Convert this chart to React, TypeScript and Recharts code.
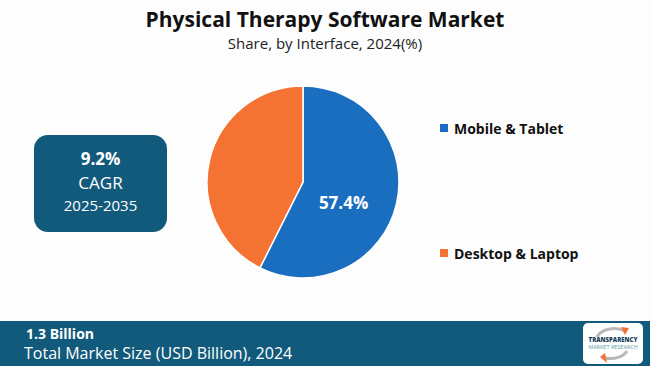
import { PieChart, Pie, Cell } from 'recharts'

const segments = ['Mobile & Tablet', 'Desktop & Laptop']
const shares = [57.4, 42.6]
const colors = ['#1a6ebf', '#f47232']

const data = segments.map((name, i) => ({ name, value: shares[i] }))

// only the big slice carries a label in the original
const renderLabel = ({ cx, cy, midAngle, outerRadius, index, value }: any) => {
  if (index !== 0) return null
  const RAD = Math.PI / 180
  const r = outerRadius * 0.52
  const x = cx + r * Math.cos(-midAngle * RAD)
  const y = cy + r * Math.sin(-midAngle * RAD)
  return (
    <text
      x={x - 8}
      y={y + 9}
      fill="#fff"
      textAnchor="middle"
      dominantBaseline="central"
      style={{ fontFamily: 'Open Sans', fontWeight: 700, fontSize: 17 }}
    >
      {value}%
    </text>
  )
}

export default function App() {
  return (
    <div
      style={{
        position: 'fixed',
        left: 0,
        top: 0,
        width: 650,
        height: 366,
        background: '#fdfdfd',
        overflow: 'hidden',
        fontFamily: 'Open Sans',
      }}
    >
      <div
        style={{
          position: 'absolute',
          top: 5,
          width: '100%',
          textAlign: 'center',
          fontSize: 21,
          lineHeight: '28px',
          fontWeight: 700,
          color: '#111',
        }}
      >
        Physical Therapy Software Market
      </div>
      <div
        style={{
          position: 'absolute',
          top: 33,
          width: '100%',
          textAlign: 'center',
          fontSize: 15,
          lineHeight: '20px',
          color: '#222',
        }}
      >
        Share, by Interface, 2024(%)
      </div>

      <PieChart
        width={650}
        height={366}
        margin={{ top: 0, right: 0, bottom: 0, left: 0 }}
        style={{ position: 'absolute', left: 0, top: 0 }}
      >
        <Pie
          data={data}
          dataKey="value"
          nameKey="name"
          cx={303}
          cy={182}
          outerRadius={96}
          startAngle={90}
          endAngle={-270}
          stroke="#fff"
          strokeWidth={1.5}
          labelLine={false}
          label={renderLabel}
          isAnimationActive={false}
        >
          {data.map((d, i) => (
            <Cell key={d.name} fill={colors[i]} />
          ))}
        </Pie>
      </PieChart>

      <div
        style={{
          position: 'absolute',
          left: 440,
          top: 118,
          fontWeight: 700,
          fontSize: 14,
          color: '#111',
        }}
      >
        {segments.map((s, i) => (
          <div
            key={s}
            style={{
              display: 'flex',
              alignItems: 'center',
              gap: 6,
              height: 20,
              marginBottom: i === 0 ? 105 : 0,
            }}
          >
            <div style={{ width: 8, height: 8, background: colors[i] }} />
            <span>{s}</span>
          </div>
        ))}
      </div>

      <div
        style={{
          position: 'absolute',
          left: 34,
          top: 135,
          width: 133,
          height: 97,
          borderRadius: 14,
          background: '#125a7c',
          color: '#fff',
          textAlign: 'center',
        }}
      >
        <div style={{ marginTop: 12, fontSize: 17, fontWeight: 700, lineHeight: '24px' }}>9.2%</div>
        <div style={{ fontSize: 17, lineHeight: '24px' }}>CAGR</div>
        <div style={{ fontSize: 15, lineHeight: '20px' }}>2025-2035</div>
      </div>

      <div
        style={{
          position: 'absolute',
          left: 0,
          top: 321,
          width: 650,
          height: 45,
          background: '#125a7c',
          color: '#fff',
        }}
      >
        <div style={{ position: 'absolute', left: 26, top: 4, fontSize: 14, fontWeight: 700, lineHeight: '18px' }}>
          1.3 Billion
        </div>
        <div style={{ position: 'absolute', left: 24, top: 22, fontSize: 16, lineHeight: '20px' }}>
          Total Market Size (USD Billion), 2024
        </div>
        <div
          style={{
            position: 'absolute',
            left: 583,
            top: 2,
            width: 60,
            height: 41,
            background: '#fff',
            borderRadius: 5,
            textAlign: 'center',
          }}
        >
          <svg width={60} height={41} style={{ position: 'absolute', left: 0, top: 0 }}>
            <path d="M14 14 A18 12 0 0 1 42 8" stroke="#b8b8b8" strokeWidth={3} fill="none" />
            <path d="M38 4 L46 5 L42 12 Z" fill="#f47232" />
            <path d="M44 28 A18 12 0 0 1 22 35" stroke="#b8b8b8" strokeWidth={3} fill="none" />
            <path d="M22 30 L24 40 L17 34 Z" fill="#f47232" />
          </svg>
          <div
            style={{
              position: 'absolute',
              top: 14,
              width: '100%',
              color: '#17405a',
              fontWeight: 800,
              fontSize: 6,
              lineHeight: '7px',
            }}
          >
            TRANSPARENCY
          </div>
          <div
            style={{
              position: 'absolute',
              top: 21,
              width: '100%',
              color: '#5aa0a8',
              fontSize: 5.5,
              lineHeight: '7px',
            }}
          >
            MARKET RESEARCH
          </div>
        </div>
      </div>
    </div>
  )
}
